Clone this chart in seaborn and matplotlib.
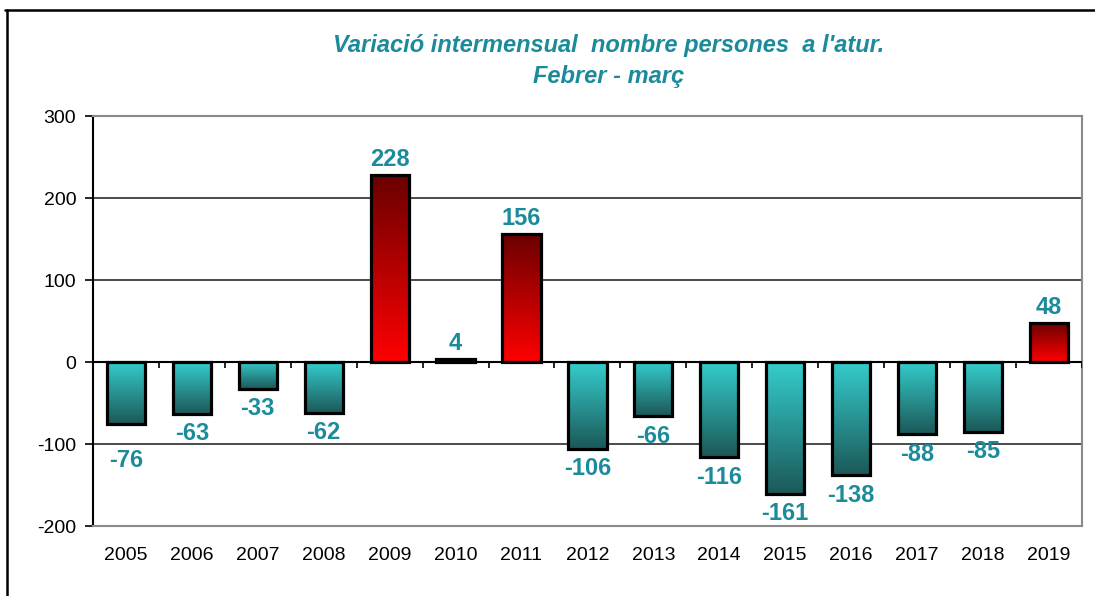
import numpy as np
import pandas as pd
import matplotlib
matplotlib.use('Agg')
import matplotlib.pyplot as plt
from matplotlib.colors import LinearSegmentedColormap
from matplotlib.lines import Line2D
import seaborn as sns

anys = ['2005', '2006', '2007', '2008', '2009', '2010', '2011', '2012',
        '2013', '2014', '2015', '2016', '2017', '2018', '2019']
variacio = [-76, -63, -33, -62, 228, 4, 156, -106, -66, -116, -161, -138, -88, -85, 48]
titol = "Variació intermensual  nombre persones  a l'atur.\nFebrer - març"
y_ticks = [-200, -100, 0, 100, 200, 300]

teal = '#1b8b9c'
cmap_pos = LinearSegmentedColormap.from_list('pos', ['#6a0000', '#ff0000'])
cmap_neg = LinearSegmentedColormap.from_list('neg', ['#35cdcd', '#1c5858'])

sns.set_style('white')
plt.rcParams['font.family'] = ['Liberation Sans', 'DejaVu Sans']
plt.rcParams['axes.unicode_minus'] = False

df = pd.DataFrame({'any': anys, 'variacio': variacio})

fig = plt.figure(figsize=(10.95, 5.96), dpi=100)
ax = fig.add_axes([0.0849, 0.1174, 0.9031, 0.6876])

sns.barplot(data=df, x='any', y='variacio', ax=ax, width=0.58,
            color='white', edgecolor='black', linewidth=2.3, zorder=3)

# degradat dins de cada barra
grad = np.linspace(0, 1, 256).reshape(-1, 1)
for patch, val in zip(ax.patches, df['variacio']):
    x0 = patch.get_x()
    x1 = x0 + patch.get_width()
    patch.set_facecolor('none')
    cm = cmap_pos if val >= 0 else cmap_neg
    im = ax.imshow(grad, extent=[x0, x1, 0, val] if val >= 0 else [x0, x1, val, 0],
                   aspect='auto', cmap=cm, origin='upper', zorder=2.5)
    im.set_clip_path(patch)

# etiquetes de valor (la de 2005 està desplaçada sota la graella, com a l'original)
for i, val in enumerate(df['variacio']):
    if val >= 0:
        ax.annotate(f'{val}', (i, val), xytext=(0, 3), textcoords='offset points',
                    ha='center', va='bottom', fontsize=17, fontweight='bold', color=teal)
    else:
        dy = -18 if -100 < val < -70 and i == 0 else -6
        ax.annotate(f'{val}', (i, val), xytext=(0, dy), textcoords='offset points',
                    ha='center', va='top', fontsize=17, fontweight='bold', color=teal)

n = len(anys)
ax.set_xlim(-0.5, n - 0.5)
ax.set_ylim(-200, 300)
ax.set_yticks(y_ticks)
ax.set_xlabel('')
ax.set_ylabel('')

# línies de graella i eix zero
for yv in [-100, 100, 200]:
    ax.axhline(yv, color='#1a1a1a', lw=1.1, zorder=1)
ax.axhline(0, color='black', lw=1.5, zorder=4)
ax.vlines(np.arange(n) + 0.5, -7, 0, color='black', lw=1.2, zorder=4)

for s in ['top', 'right', 'bottom']:
    ax.spines[s].set_color('#8a8a8a')
    ax.spines[s].set_linewidth(1.5)
ax.spines['left'].set_color('black')
ax.spines['left'].set_linewidth(1.5)

ax.tick_params(axis='y', direction='out', length=6, width=1.2, color='black',
               labelsize=14, labelcolor='black', pad=6, left=True)
ax.tick_params(axis='x', length=0, labelsize=14, labelcolor='black', pad=15)

fig.text(0.556, 0.898, titol, ha='center', va='center', fontsize=17,
         fontweight='bold', fontstyle='italic', color=teal, linespacing=1.45)

# marc del gràfic
fig.add_artist(Line2D([0.005, 1.0], [0.983, 0.983], color='black', lw=1.8,
                      transform=fig.transFigure))
fig.add_artist(Line2D([0.006, 0.006], [0.0, 0.983], color='black', lw=1.8,
                      transform=fig.transFigure))

fig.savefig('out.png', dpi=100)
